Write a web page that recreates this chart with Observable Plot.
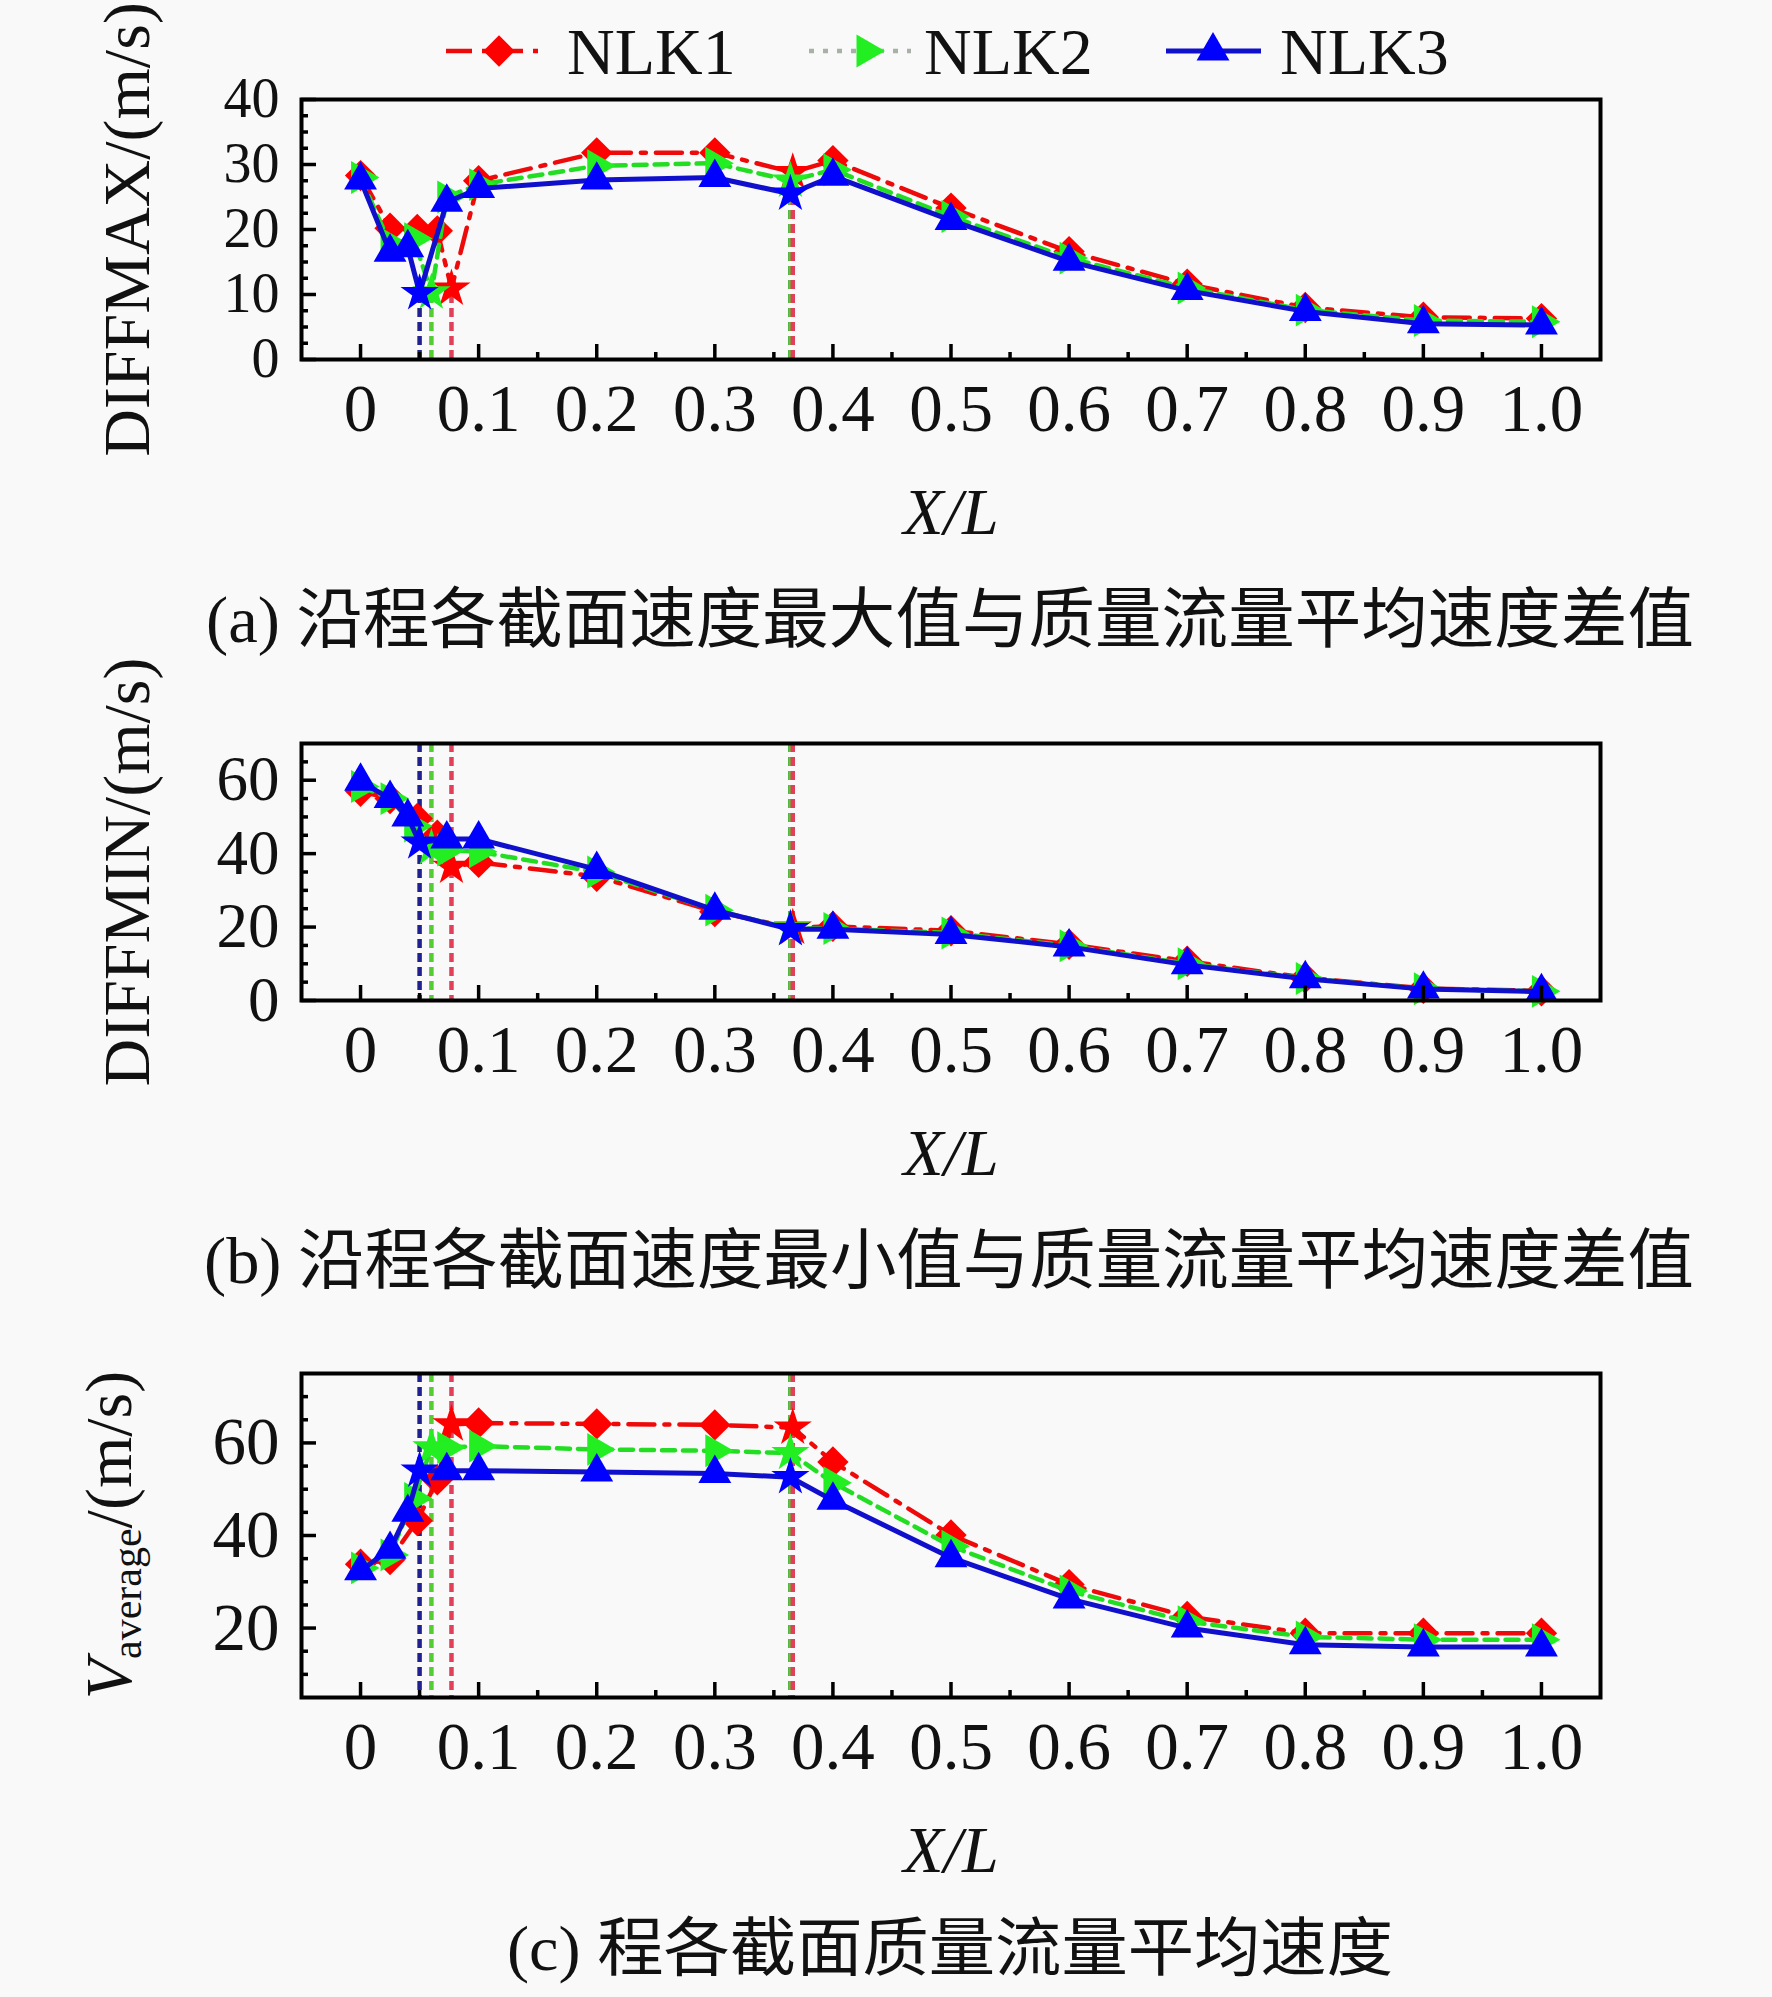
<!DOCTYPE html>
<html><head><meta charset="utf-8">
<script src="https://cdn.jsdelivr.net/npm/d3@7"></script>
<script src="https://cdn.jsdelivr.net/npm/@observablehq/plot@0.6"></script>
<style>
html,body{margin:0;padding:0;background:#f9f9f9;}
#root{position:relative;width:1772px;height:1997px;overflow:hidden;background:#f9f9f9;}
.panel{position:absolute;left:0;}
.panel svg{overflow:visible;background:transparent !important;}
.cap{position:absolute;white-space:nowrap;font-family:"Liberation Serif","Noto Sans CJK SC",serif;color:#111;transform-origin:left center;line-height:1;}
#legend{position:absolute;left:0;top:0;}
</style></head>
<body><div id="root"></div>
<script>
// ---------- data ----------
const seriesNames = ["NLK1", "NLK2", "NLK3"];
const xTickVals = [0, 0.1, 0.2, 0.3, 0.4, 0.5, 0.6, 0.7, 0.8, 0.9, 1.0];
const xTickLabels = ["0", "0.1", "0.2", "0.3", "0.4", "0.5", "0.6", "0.7", "0.8", "0.9", "1.0"];
const xMinorVals = [0.05, 0.15, 0.25, 0.35, 0.45, 0.55, 0.65, 0.75, 0.85, 0.95];

// X/L positions of each series (stars mark the transition sections)
const xNLK1 = [0, 0.025, 0.048, 0.065, 0.077, 0.1, 0.2, 0.3, 0.366, 0.4, 0.5, 0.6, 0.7, 0.8, 0.9, 1.0];
const xNLK2 = [0, 0.025, 0.045, 0.06, 0.073, 0.1, 0.2, 0.3, 0.364, 0.4, 0.5, 0.6, 0.7, 0.8, 0.9, 1.0];
const xNLK3 = [0, 0.025, 0.04, 0.05, 0.073, 0.1, 0.2, 0.3, 0.364, 0.4, 0.5, 0.6, 0.7, 0.8, 0.9, 1.0];
const starNLK1 = [4, 8];
const starNLK2 = [3, 8];
const starNLK3 = [3, 8];

// (a) DIFFMAX
const maxNLK1 = [28.3, 20.2, 20.0, 19.8, 10.9, 27.5, 31.8, 31.8, 28.8, 30.6, 23.3, 16.6, 11.6, 8.0, 6.5, 6.3];
const maxNLK2 = [28.0, 17.8, 18.6, 10.3, 25.0, 26.9, 29.8, 30.2, 27.5, 29.2, 22.0, 15.6, 11.0, 7.6, 6.0, 5.8];
const maxNLK3 = [27.6, 16.5, 17.2, 10.2, 24.2, 26.3, 27.6, 28.0, 25.5, 28.2, 21.4, 15.1, 10.6, 7.4, 5.5, 5.3];
// (b) DIFFMIN
const minNLK1 = [57.0, 55.0, 49.6, 45.0, 36.4, 37.6, 33.8, 24.2, 19.8, 20.2, 19.0, 15.3, 10.7, 6.2, 3.3, 2.6];
const minNLK2 = [58.3, 55.0, 47.5, 41.5, 41.0, 40.5, 35.0, 24.6, 19.6, 19.6, 18.4, 14.9, 10.0, 6.0, 3.2, 2.5];
const minNLK3 = [59.7, 55.0, 50.0, 43.0, 44.0, 44.0, 35.7, 24.6, 19.4, 19.4, 18.0, 14.6, 9.7, 5.9, 3.1, 2.4];
// (c) V average
const avgNLK1 = [33.8, 34.8, 43.2, 52.0, 64.0, 64.3, 64.1, 63.9, 63.3, 55.9, 40.1, 29.4, 22.5, 18.9, 18.9, 18.9];
const avgNLK2 = [33.0, 35.8, 48.0, 59.0, 59.0, 59.3, 58.6, 58.3, 57.8, 51.4, 37.7, 28.0, 21.4, 18.1, 17.5, 17.5];
const avgNLK3 = [32.4, 37.0, 45.0, 54.0, 54.0, 54.0, 53.7, 53.4, 52.6, 47.6, 35.2, 26.3, 20.0, 16.4, 15.9, 15.9];

const yTicksA = [0, 10, 20, 30, 40];
const yMinorA = [2.5, 5, 7.5, 12.5, 15, 17.5, 22.5, 25, 27.5, 32.5, 35, 37.5];
const yTicksB = [0, 20, 40, 60];
const yMinorB = [5, 10, 15, 25, 30, 35, 45, 50, 55, 65];
const yTicksC = [20, 40, 60];
const yMinorC = [10, 15, 25, 30, 35, 45, 50, 55, 65, 70];

const captionA = "(a) 沿程各截面速度最大值与质量流量平均速度差值";
const captionB = "(b) 沿程各截面速度最小值与质量流量平均速度差值";
const captionC = "(c) 程各截面质量流量平均速度";

// ---------- styles ----------
const symDiamond = {draw(ctx, size) { const d = Math.sqrt(size) / Math.SQRT2; ctx.moveTo(0, -d); ctx.lineTo(d, 0); ctx.lineTo(0, d); ctx.lineTo(-d, 0); ctx.closePath(); }};
const symTriRight = {draw(ctx, size) { const a = Math.sqrt(size / (Math.sqrt(3) / 4)); const h = a * Math.sqrt(3) / 2; ctx.moveTo(2 * h / 3, 0); ctx.lineTo(-h / 3, a / 2); ctx.lineTo(-h / 3, -a / 2); ctx.closePath(); }};
const styles = [
  {line: "#ee0a0a", fill: "#ff0000", dash: "26,10,5,10", width: 4.5, symbol: symDiamond, r: 12.5, vColor: "#e0405a"},
  {line: "#22dd22", fill: "#22ee22", dash: "13,8", width: 4.5, symbol: symTriRight, r: 12.2, vColor: "#55cc33"},
  {line: "#1010cc", fill: "#0000ff", dash: null, width: 5, symbol: "triangle", r: 12.2, vColor: "#202090"}
];
const STAR_R = 12;
const FONT = "Liberation Serif";
const TICK_FS = 67, LABEL_FS = 66;
const W = 1772, ML = 301, MR = 172;
const root = document.getElementById("root");

function makePanel(cfg) {
  const {top, mt, fh, mb, yDomain, yTicks, yMinor, ys, label, vFromZero, yTickFs} = cfg;
  const fw = W - ML - MR;
  const xs = [xNLK1, xNLK2, xNLK3];
  const stars = [starNLK1, starNLK2, starNLK3];
  const marks = [];
  // vertical dashed transition lines (blue drawn first, red last)
  [2, 1, 0].forEach(k => {
    const vl = stars[k].map(i => ({x: xs[k][i], y: ys[k][i]}));
    const st = styles[k];
    marks.push(Plot.ruleX(vl, vFromZero
      ? {x: "x", y1: yDomain[0], y2: "y", stroke: st.vColor, strokeWidth: 4.5, strokeDasharray: "9,5"}
      : {x: "x", stroke: st.vColor, strokeWidth: 4.5, strokeDasharray: "9,5"}));
  });
  seriesNames.forEach((name, k) => {
    const st = styles[k];
    const pts = xs[k].map((x, i) => ({series: name, x, y: ys[k][i], star: stars[k].includes(i)}));
    marks.push(Plot.line(pts, {x: "x", y: "y", stroke: st.line, strokeWidth: st.width, strokeDasharray: st.dash}));
    marks.push(Plot.dot(pts.filter(d => !d.star), {x: "x", y: "y", symbol: st.symbol, r: st.r, fill: st.fill, stroke: "none"}));
    marks.push(Plot.dot(pts.filter(d => d.star), {x: "x", y: "y", symbol: "star", r: STAR_R, fill: st.fill, stroke: "none"}));
  });
  // ticks (inward)
  marks.push(Plot.tickX(xTickVals, {x: d => d, insetTop: fh - 15, stroke: "#000", strokeWidth: 3.5}));
  marks.push(Plot.tickX(xMinorVals, {x: d => d, insetTop: fh - 7, stroke: "#000", strokeWidth: 3.5}));
  marks.push(Plot.tickY(yTicks, {y: d => d, insetRight: fw - 15, stroke: "#000", strokeWidth: 3.5}));
  marks.push(Plot.tickY(yMinor, {y: d => d, insetRight: fw - 7, stroke: "#000", strokeWidth: 3.5}));
  marks.push(Plot.frame({stroke: "#000", strokeWidth: 4}));
  // tick labels
  marks.push(Plot.text(xTickVals, {x: d => d, text: (d, i) => xTickLabels[i], frameAnchor: "bottom", dy: 50, lineAnchor: "middle", textAnchor: "middle", fontSize: TICK_FS, fontFamily: FONT, fill: "#111"}));
  marks.push(Plot.text(yTicks, {y: d => d, text: d => String(d), frameAnchor: "left", dx: -22, lineAnchor: "middle", textAnchor: "end", fontSize: yTickFs || TICK_FS, fontFamily: FONT, fill: "#111"}));
  marks.push(Plot.text(["X/L"], {text: d => d, frameAnchor: "bottom", dy: 153, lineAnchor: "middle", fontSize: LABEL_FS, fontStyle: "italic", fontFamily: FONT, fill: "#111"}));
  if (label) marks.push(Plot.text([label], {text: d => d, frameAnchor: "left", dx: -174, rotate: -90, lineAnchor: "middle", textAnchor: "middle", fontSize: LABEL_FS, fontFamily: FONT, fill: "#111"}));

  const svg = Plot.plot({
    width: W, height: mt + fh + mb,
    marginLeft: ML, marginRight: MR, marginTop: mt, marginBottom: mb,
    x: {domain: [-0.05, 1.05], axis: null},
    y: {domain: yDomain, axis: null},
    style: {background: "transparent", overflow: "visible"},
    marks
  });
  const div = document.createElement("div");
  div.className = "panel";
  div.style.top = top + "px";
  div.appendChild(svg);
  root.appendChild(div);
  return svg;
}

makePanel({top: 0, mt: 99, fh: 260, mb: 201, yDomain: [0, 40], yTicks: yTicksA, yMinor: yMinorA,
  ys: [maxNLK1, maxNLK2, maxNLK3], label: "DIFFMAX/(m/s)", vFromZero: true, yTickFs: 56});
makePanel({top: 640, mt: 103, fh: 257, mb: 200, yDomain: [0, 70], yTicks: yTicksB, yMinor: yMinorB,
  ys: [minNLK1, minNLK2, minNLK3], label: "DIFFMIN/(m/s)", vFromZero: false, yTickFs: 63});
const svgC = makePanel({top: 1273, mt: 100, fh: 324, mb: 200, yDomain: [5, 75], yTicks: yTicksC, yMinor: yMinorC,
  ys: [avgNLK1, avgNLK2, avgNLK3], label: null, vFromZero: false});

// y label of panel (c) with subscript
{
  const t = d3.select(svgC).append("text")
    .attr("transform", `translate(116,${100 + 324 / 2}) rotate(-90)`)
    .attr("text-anchor", "middle").attr("dominant-baseline", "middle")
    .attr("font-family", FONT).attr("font-size", LABEL_FS).attr("fill", "#111");
  t.append("tspan").attr("font-style", "italic").text("V");
  t.append("tspan").attr("font-size", 42).attr("dy", 15).text("average");
  t.append("tspan").attr("dy", -15).text("/(m/s)");
}

// legend
{
  const lg = d3.select(root).append("svg").attr("id", "legend").attr("width", W).attr("height", 110);
  const items = [
    {x1: 446, x2: 548, mx: 499, tx: 567},
    {x1: 809, x2: 911, mx: 866, tx: 924},
    {x1: 1166, x2: 1261, mx: 1213, tx: 1280}
  ];
  const cy = 51;
  items.forEach((it, k) => {
    const st = styles[k];
    lg.append("line").attr("x1", it.x1).attr("x2", it.x2).attr("y1", cy).attr("y2", cy)
      .attr("stroke", k === 1 ? "#a8b0a8" : st.line).attr("stroke-width", st.width)
      .attr("stroke-dasharray", k === 1 ? "5,9" : st.dash);
    const symType = typeof st.symbol === "string" ? d3.symbolTriangle : st.symbol;
    lg.append("path").attr("d", d3.symbol(symType, st.r * st.r * Math.PI)())
      .attr("transform", `translate(${it.mx},${cy})`).attr("fill", st.fill);
    lg.append("text").attr("x", it.tx).attr("y", cy).attr("dy", "0.35em")
      .attr("font-family", FONT).attr("font-size", LABEL_FS).attr("fill", "#111").text(seriesNames[k]);
  });
}

// captions
function placeCaption(text, left, right, cy, size) {
  const div = document.createElement("div");
  div.className = "cap";
  div.style.fontSize = size + "px";
  div.textContent = text;
  root.appendChild(div);
  const r = div.getBoundingClientRect();
  div.style.left = left + "px";
  div.style.top = (cy - r.height / 2) + "px";
  div.style.transform = `scaleX(${(right - left) / r.width})`;
}
placeCaption(captionA, 206, 1694, 620, 66);
placeCaption(captionB, 204, 1694, 1261, 66);
placeCaption(captionC, 507, 1393, 1949, 64);
</script>
</body></html>
